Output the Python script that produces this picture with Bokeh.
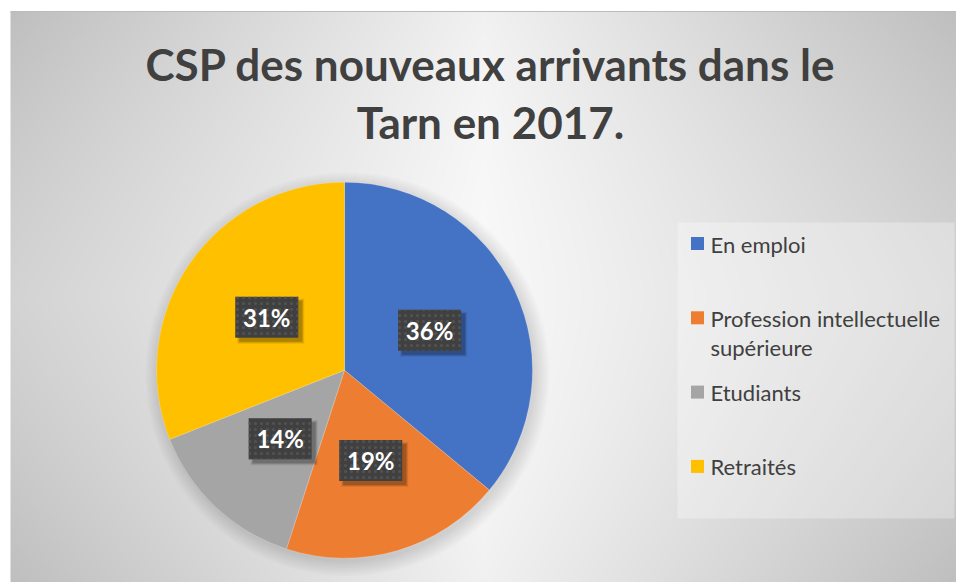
import numpy as np
from bokeh.plotting import figure
from bokeh.models import Range1d
from bokeh.core.properties import value
from bokeh.embed import file_html
from bokeh.resources import INLINE

# ---- data ----
title_lines = ["CSP des nouveaux arrivants dans le", "Tarn en 2017."]
categories = ["En emploi", "Profession intellectuelle\nsupérieure", "Etudiants", "Retraités"]
shares = [36, 19, 14, 31]
pct_labels = ["36%", "19%", "14%", "31%"]
colors = ["#4472C4", "#ED7D31", "#A5A5A5", "#FFC000"]

# ---- layout (page pixel coords, y measured from page top) ----
W, H = 956, 582
def Y(img_y):
    return 582 - np.asarray(img_y, dtype=float)

p = figure(width=W, height=H, x_range=Range1d(0, 956), y_range=Range1d(0, 582),
           output_backend="svg", toolbar_location=None, min_border=0,
           x_axis_location=None, y_axis_location=None)
p.grid.visible = False
p.outline_line_color = None
p.background_fill_color = "white"
p.border_fill_color = "white"

# background radial-ish gradient of the chart area
gx0, gx1, gy0, gy1 = 10, 956, 11, 582
gw, gh = gx1 - gx0, gy1 - gy0
xs = gx0 + np.arange(gw) + 0.5
ys_img = gy1 - (np.arange(gh) + 0.5)   # row 0 at bottom
XX, YY = np.meshgrid(xs, ys_img)
u = np.abs(XX - 483) / 473.0
v = np.abs(YY - 296) / 285.0
g = 249 - 38 * u - 8 * v ** 2 - 12 * u * v
g = np.clip(g, 0, 255).astype(np.uint32)
img = (255 << 24) | (g << 16) | (g << 8) | g
p.image_rgba(image=[img.astype(np.uint32)], x=gx0, y=float(Y(gy1)), dw=gw, dh=gh)
p.segment(x0=gx0, x1=gx1, y0=float(Y(gy0)), y1=float(Y(gy0)), line_color="#BBBBBB",
          line_width=1)

# title
p.text(x=[490, 490], y=Y([63, 121]), text=title_lines, text_align="center",
       text_baseline="middle", text_font=value("Lato"), text_font_style="bold",
       text_font_size="44px", text_color="#404040")

# pie
cx, cy, R = 344, float(Y(369.7)), 188
for k in range(14, -1, -2):
    p.circle(x=cx + 3, y=cy - 4, radius=R + k, fill_color="black", fill_alpha=0.016,
             line_color=None)
fr = np.cumsum([0] + shares) / float(sum(shares))
starts = np.pi / 2 - 2 * np.pi * fr[:-1]
ends = np.pi / 2 - 2 * np.pi * fr[1:]
p.wedge(x=cx, y=cy, radius=R, start_angle=starts, end_angle=ends, direction="clock",
        fill_color=colors, line_color="white", line_width=0.5, line_alpha=0.4)

# data labels
mids = np.pi / 2 - 2 * np.pi * (fr[:-1] + fr[1:]) / 2
lx = cx + 0.5 * R * np.cos(mids)
ly = cy + 0.5 * R * np.sin(mids)
for k, a in [(4, 0.08), (2, 0.12), (0, 0.16)]:
    p.rect(x=lx + 4, y=ly - 4, width=63 + k, height=41 + k, fill_color="black",
           fill_alpha=a, line_color=None)
p.rect(x=lx, y=ly, width=63, height=41, fill_color="#404040", line_color=None,
       hatch_pattern="dot", hatch_color="#525252", hatch_scale=6, hatch_weight=1.2)
p.text(x=lx, y=ly, text=pct_labels, text_align="center", text_baseline="middle",
       text_font=value("Lato"), text_font_style="bold", text_font_size="24px",
       text_color="white")

# legend
p.quad(left=677, right=954, top=float(Y(222)), bottom=float(Y(518)),
       fill_color="white", fill_alpha=0.3, line_color=None)
row_c = 243 + 74.3 * np.arange(len(categories))
p.rect(x=[697] * len(categories), y=Y(row_c), width=13, height=13,
       fill_color=colors, line_color=None)
tx, ty, tt = [], [], []
for i, lab in enumerate(categories):
    for j, line in enumerate(lab.split("\n")):
        tx.append(710)
        ty.append(float(Y(row_c[i] + 0.5 + 29 * j)))
        tt.append(line)
p.text(x=tx, y=ty, text=tt, text_align="left", text_baseline="middle",
       text_font=value("Lato"), text_font_size="22px", text_color="#404040")

open("out.html", "w").write(file_html(p, INLINE))
